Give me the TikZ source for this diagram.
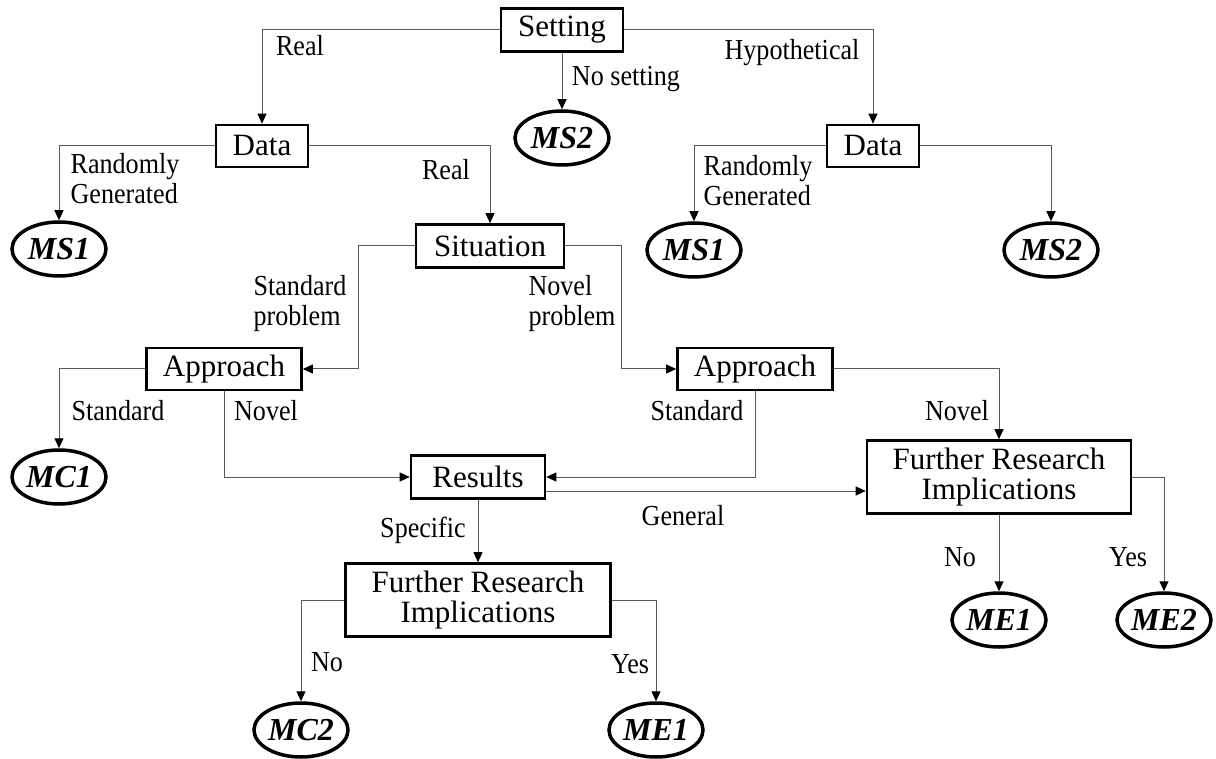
\documentclass[tikz,border=0pt]{standalone}
\usepackage{fontspec}
\setmainfont{Liberation Serif}
\newfontfamily\labfont[FakeStretch=0.9]{Liberation Serif}
\usetikzlibrary{arrows.meta,shapes.geometric}
\begin{document}
\begin{tikzpicture}[x=1pt,y=-1pt,
 box/.style={draw, line width=2.6pt, rectangle, inner sep=0pt, font=\fontsize{31}{30}\selectfont, align=center},
 term/.style={draw, ellipse, line width=3.5pt, inner sep=0pt, minimum width=94pt, minimum height=54pt, font=\fontsize{32}{32}\selectfont\bfseries\itshape},
 lab/.style={inner sep=0pt, align=left, font=\labfont\fontsize{29}{30}\selectfont},
 conn/.style={draw=black!65, line width=1pt, -{Triangle[length=10pt,width=9pt,color=black]}},
]
\useasboundingbox (0,0) rectangle (1216,759);

% boxes
\node[box, minimum width=122pt, minimum height=43pt] (setting) at (562,30) {Setting};
\node[box, minimum width=92pt, minimum height=42pt] (data1) at (262,146) {Data};
\node[box, minimum width=92pt, minimum height=42pt] (data2) at (873,146) {Data};
\node[box, minimum width=148pt, minimum height=43pt] (situation) at (490,246) {Situation};
\node[box, minimum width=155pt, minimum height=42pt] (app1) at (224,369) {Approach};
\node[box, minimum width=155pt, minimum height=42pt] (app2) at (755,369) {Approach};
\node[box, minimum width=134pt, minimum height=43pt] (results) at (478,477) {Results};
\node[box, minimum width=264pt, minimum height=73pt] (fri2) at (999,477) {Further Research\\Implications};
\node[box, minimum width=265pt, minimum height=73pt] (fri1) at (478,600) {Further Research\\Implications};

% terminals
\node[term] (ms2a) at (562,138) {MS2};
\node[term] (ms1a) at (59,249) {MS1};
\node[term] (ms1b) at (694,250) {MS1};
\node[term] (ms2b) at (1051,250) {MS2};
\node[term] (mc1) at (59,477) {MC1};
\node[term] (me1a) at (999,620) {ME1};
\node[term] (me2) at (1164,620) {ME2};
\node[term] (mc2) at (301,730) {MC2};
\node[term] (me1b) at (656,730) {ME1};

% connectors
\draw[conn] (setting.west) -| (data1.north);
\draw[conn] (setting.south) -- (ms2a.north);
\draw[conn] (setting.east) -| (data2.north);
\draw[conn] (data1.west) -| (ms1a.north);
\draw[conn] (data1.east) -| (situation.north);
\draw[conn] (data2.west) -| (ms1b.north);
\draw[conn] (data2.east) -| (ms2b.north);
\draw[conn] (situation.west) -- ++(-56,0) |- (app1.east);
\draw[conn] (situation.east) -- ++(56,0) |- (app2.west);
\draw[conn] (app1.west) -| (mc1.north);
\draw[conn] (app1.south) |- (results.west);
\draw[conn] (app2.south) |- (results.east);
\draw[conn] (app2.east) -| (fri2.north);
\draw[conn] ([yshift=-14pt]results.east) -- ([yshift=-14pt]results.east -| fri2.west);
\draw[conn] (results.south) -- (fri1.north);
\draw[conn] (fri1.west) -| (mc2.north);
\draw[conn] (fri1.east) -| (me1b.north);
\draw[conn] (fri2.south) -- (me1a.north);
\draw[conn] (fri2.east) -| (me2.north);

% labels
\node[lab] (lreal1) at (300,46) {Real};
\node[lab] (lnoset) at (626,79) {No setting};
\node[lab] (lhyp) at (792,53) {Hypothetical};
\node[lab] (lrand1) at (125,179) {Randomly\\Generated};
\node[lab] (lreal2) at (446,170) {Real};
\node[lab] (lrand2) at (758,181) {Randomly\\Generated};
\node[lab] (lstdp) at (300,304) {Standard\\problem};
\node[lab] (lnovp) at (572,304) {Novel\\problem};
\node[lab] (lstd1) at (118,411) {Standard};
\node[lab] (lnov1) at (266,411) {Novel};
\node[lab] (lstd2) at (697,411) {Standard};
\node[lab] (lnov2) at (957,411) {Novel};
\node[lab] (lspec) at (423,530) {Specific};
\node[lab] (lgen) at (683,516) {General};
\node[lab] (lno1) at (327,662) {No};
\node[lab] (lyes1) at (630,664) {Yes};
\node[lab] (lno2) at (960,557) {No};
\node[lab] (lyes2) at (1128,557) {Yes};
\end{tikzpicture}
\end{document}
